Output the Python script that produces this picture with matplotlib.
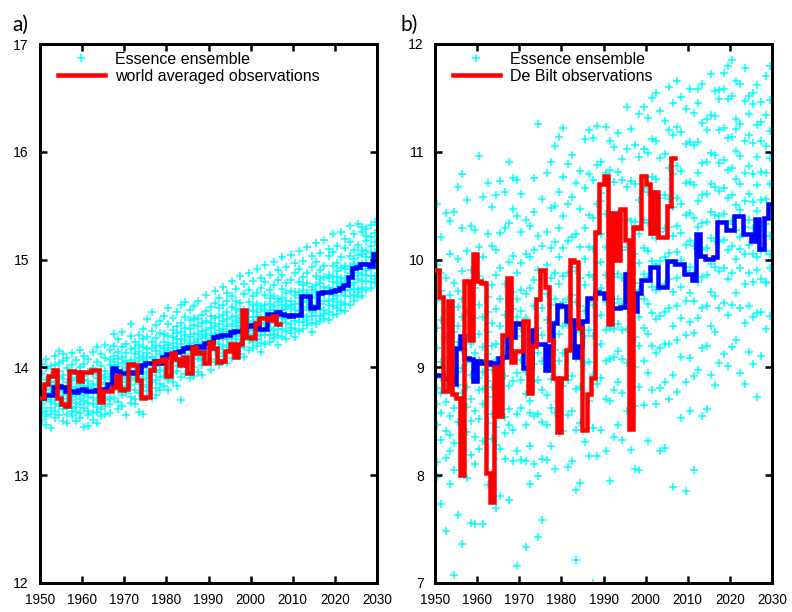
import numpy as np
import matplotlib
matplotlib.use("Agg")
import matplotlib.pyplot as plt

plt.rcParams['font.family'] = ['Liberation Sans', 'DejaVu Sans']

years = list(range(1950, 2030))
obs_years = list(range(1950, 2007))

# ensemble mean (blue), panel a
mean_a = [13.72, 13.74, 13.74, 13.82, 13.83, 13.82, 13.78, 13.78, 13.77, 13.79,
          13.80, 13.78, 13.78, 13.79, 13.80, 13.80, 13.85, 13.99, 13.97, 13.95,
          13.95, 13.96, 13.95, 13.96, 14.02, 14.04, 14.04, 14.06, 14.04, 14.10,
          14.12, 14.12, 14.14, 14.15, 14.18, 14.19, 14.18, 14.20, 14.19, 14.23,
          14.24, 14.28, 14.29, 14.30, 14.30, 14.33, 14.34, 14.34, 14.36, 14.38,
          14.39, 14.40, 14.36, 14.36, 14.50, 14.50, 14.51, 14.50, 14.49, 14.48,
          14.49, 14.49, 14.66, 14.66, 14.55, 14.56, 14.69, 14.70, 14.70, 14.71,
          14.72, 14.74, 14.76, 14.84, 14.92, 14.93, 14.96, 14.96, 14.94, 15.05]

# world averaged observations (red), panel a
obs_a = [13.72, 13.85, 13.92, 13.98, 13.72, 13.66, 13.64, 13.97, 13.96, 13.87,
         13.96, 13.96, 13.98, 13.98, 13.68, 13.78, 13.78, 13.82, 13.92, 13.79,
         13.80, 14.03, 14.02, 13.88, 13.72, 13.73, 13.98, 14.05, 14.06, 14.08,
         13.92, 14.13, 14.08, 14.02, 14.10, 13.95, 14.19, 14.13, 14.14, 14.04,
         14.24, 14.18, 14.05, 14.06, 14.15, 14.22, 14.10, 14.22, 14.53, 14.28,
         14.27, 14.41, 14.46, 14.46, 14.44, 14.48, 14.40]

# ensemble mean (blue), panel b
mean_b = [8.93, 8.93, 8.90, 8.90, 8.85, 9.18, 9.29, 9.09, 9.08, 8.87,
          9.06, 9.04, 9.05, 9.03, 9.04, 9.09, 9.10, 9.27, 9.28, 9.41,
          9.40, 8.99, 9.00, 9.35, 9.22, 9.22, 8.98, 9.20, 9.41, 9.58,
          9.57, 9.43, 9.44, 9.10, 9.20, 9.43, 9.64, 9.64, 9.70, 9.69,
          9.64, 9.64, 9.55, 9.55, 9.56, 9.87, 9.52, 9.52, 9.69, 9.81,
          9.81, 9.93, 9.93, 9.75, 9.75, 9.99, 9.99, 9.96, 9.96, 9.87,
          9.87, 9.81, 10.24, 10.03, 10.01, 10.01, 10.02, 10.35, 10.35, 10.27,
          10.27, 10.40, 10.40, 10.24, 10.24, 10.17, 10.38, 10.10, 10.39, 10.52]

# De Bilt observations (red), panel b
obs_b = [9.90, 9.65, 8.78, 9.62, 8.75, 8.72, 8.00, 9.80, 9.25, 10.05,
         9.80, 9.78, 8.02, 7.75, 9.00, 8.55, 9.30, 9.83, 9.05, 9.15,
         9.15, 9.43, 8.76, 9.20, 9.63, 9.90, 9.75, 9.25, 8.90, 8.40,
         8.90, 9.16, 10.00, 9.98, 9.37, 8.42, 8.75, 8.90, 10.26, 10.70,
         10.78, 9.40, 10.43, 10.00, 10.47, 10.18, 8.43, 10.30, 10.29, 10.78,
         10.70, 10.25, 10.63, 10.21, 10.21, 10.50, 10.94]

# Essence ensemble members, one row per year, panel a
ens_a = [
    [13.58, 13.83, 13.69, 13.51, 13.94, 13.74, 13.62, 14.03, 13.77, 13.66],
    [13.79, 13.47, 13.88, 13.71, 13.60, 13.99, 13.76, 13.55, 13.84, 14.08],
    [13.62, 13.70, 13.93, 13.44, 13.81, 13.76, 14.01, 13.57, 13.68, 13.86],
    [13.73, 13.95, 13.60, 13.87, 14.11, 13.79, 13.66, 13.84, 14.02, 13.53],
    [13.91, 13.64, 13.78, 14.04, 13.85, 13.56, 13.97, 13.72, 14.15, 13.81],
    [13.68, 13.50, 13.89, 13.77, 14.06, 13.93, 13.61, 13.80, 13.74, 14.12],
    [13.86, 13.71, 13.57, 13.99, 13.64, 13.79, 14.09, 13.48, 13.83, 13.75],
    [13.62, 13.95, 13.81, 13.70, 14.13, 13.55, 13.88, 13.73, 13.60, 14.02],
    [13.74, 13.59, 13.90, 14.07, 13.67, 13.82, 13.50, 13.96, 13.78, 13.63],
    [13.97, 13.66, 13.84, 13.53, 13.76, 14.00, 13.71, 13.89, 14.16, 13.58],
    [13.69, 13.88, 13.45, 13.77, 14.03, 13.83, 13.62, 13.92, 13.74, 14.11],
    [13.83, 13.60, 13.96, 13.46, 13.73, 14.08, 13.87, 13.67, 13.79, 13.56],
    [13.72, 13.94, 13.58, 13.85, 13.66, 14.14, 13.78, 13.51, 13.99, 13.81],
    [13.90, 13.63, 13.77, 14.05, 13.48, 13.84, 13.70, 13.96, 13.59, 14.19],
    [13.61, 13.86, 14.01, 13.74, 13.93, 13.55, 13.80, 14.12, 13.68, 13.89],
    [13.85, 13.70, 13.57, 13.97, 14.09, 13.64, 13.91, 13.78, 14.21, 13.73],
    [13.77, 14.02, 13.66, 13.89, 13.58, 14.16, 13.83, 13.94, 13.71, 14.07],
    [14.05, 13.84, 14.20, 13.93, 13.72, 14.11, 13.98, 14.31, 13.87, 14.02],
    [13.89, 14.14, 13.68, 14.01, 13.95, 14.26, 13.79, 14.08, 13.92, 13.61],
    [14.10, 13.82, 13.97, 13.64, 14.19, 13.91, 14.04, 13.74, 14.33, 13.86],
    [13.83, 14.06, 13.92, 14.22, 13.56, 13.99, 13.76, 14.13, 13.89, 14.03],
    [14.01, 13.73, 14.17, 13.90, 14.29, 13.84, 13.67, 14.07, 13.95, 14.40],
    [13.88, 14.12, 13.79, 14.00, 13.66, 14.24, 13.93, 14.05, 13.71, 14.18],
    [14.09, 13.85, 13.97, 14.30, 13.76, 14.14, 13.59, 14.02, 13.91, 14.21],
    [13.94, 14.19, 13.82, 14.07, 14.36, 13.99, 13.57, 14.11, 13.88, 14.26],
    [14.13, 13.90, 14.28, 13.78, 14.04, 14.17, 13.96, 14.45, 13.84, 14.09],
    [13.99, 14.24, 13.86, 14.10, 13.72, 14.34, 14.03, 13.93, 14.18, 14.51],
    [14.15, 13.88, 14.01, 14.27, 13.81, 14.08, 14.39, 13.96, 14.20, 13.74],
    [13.91, 14.20, 14.06, 13.79, 14.32, 14.12, 13.98, 14.43, 13.85, 14.02],
    [14.18, 13.97, 14.31, 14.05, 13.83, 14.24, 14.12, 14.48, 13.92, 14.14],
    [14.04, 14.29, 13.88, 14.16, 14.40, 13.99, 14.21, 14.09, 14.55, 13.79],
    [14.23, 13.95, 14.13, 14.35, 14.01, 14.46, 13.86, 14.18, 14.07, 14.28],
    [14.09, 14.32, 13.97, 14.19, 14.51, 14.05, 14.26, 13.83, 14.15, 14.38],
    [14.26, 14.02, 14.41, 14.14, 13.91, 14.22, 14.58, 14.08, 14.33, 13.70],
    [14.12, 14.37, 14.03, 14.25, 13.94, 14.47, 14.17, 14.30, 14.06, 14.61],
    [14.28, 14.05, 14.21, 14.44, 13.90, 14.16, 14.36, 14.10, 14.53, 14.23],
    [14.14, 14.39, 14.00, 14.24, 14.57, 14.11, 14.31, 13.92, 14.20, 14.46],
    [14.31, 14.08, 14.45, 14.17, 14.26, 13.96, 14.38, 14.62, 14.13, 14.22],
    [14.10, 14.34, 14.23, 14.02, 14.49, 14.16, 14.29, 14.07, 14.41, 13.93],
    [14.35, 14.12, 14.27, 14.52, 14.05, 14.22, 14.43, 14.67, 14.18, 14.31],
    [14.17, 14.41, 14.08, 14.30, 14.56, 14.25, 13.98, 14.37, 14.21, 14.48],
    [14.38, 14.15, 14.32, 14.60, 14.24, 14.46, 14.05, 14.29, 14.71, 14.19],
    [14.22, 14.47, 14.11, 14.35, 14.28, 14.55, 14.02, 14.40, 14.17, 14.64],
    [14.43, 14.19, 14.33, 14.58, 14.07, 14.26, 14.49, 14.75, 14.36, 14.13],
    [14.26, 14.51, 14.15, 14.38, 14.62, 14.31, 14.04, 14.45, 14.21, 14.69],
    [14.40, 14.18, 14.56, 14.29, 14.47, 14.09, 14.35, 14.66, 14.24, 14.80],
    [14.31, 14.54, 14.21, 14.43, 14.13, 14.62, 14.38, 14.26, 14.73, 14.48],
    [14.46, 14.23, 14.37, 14.60, 14.12, 14.29, 14.52, 14.85, 14.41, 14.18],
    [14.28, 14.53, 14.19, 14.44, 14.68, 14.35, 14.10, 14.49, 14.25, 14.77],
    [14.47, 14.25, 14.61, 14.34, 14.52, 14.16, 14.41, 14.72, 14.30, 14.88],
    [14.35, 14.58, 14.24, 14.47, 14.18, 14.66, 14.43, 14.31, 14.80, 14.53],
    [14.51, 14.29, 14.44, 14.69, 14.20, 14.37, 14.59, 14.91, 14.48, 14.26],
    [14.33, 14.57, 14.23, 14.46, 14.74, 14.40, 14.14, 14.54, 14.30, 14.83],
    [14.52, 14.30, 14.67, 14.41, 14.58, 14.22, 14.47, 14.79, 14.36, 14.95],
    [14.41, 14.64, 14.30, 14.53, 14.24, 14.72, 14.49, 14.37, 14.86, 14.59],
    [14.57, 14.35, 14.50, 14.76, 14.27, 14.44, 14.66, 14.98, 14.53, 14.31],
    [14.39, 14.63, 14.29, 14.52, 14.81, 14.47, 14.21, 14.61, 14.36, 14.90],
    [14.58, 14.36, 14.73, 14.46, 14.64, 14.28, 14.53, 14.86, 14.42, 15.02],
    [14.45, 14.69, 14.34, 14.57, 14.26, 14.78, 14.54, 14.41, 14.93, 14.62],
    [14.62, 14.40, 14.55, 14.81, 14.32, 14.49, 14.71, 15.04, 14.58, 14.37],
    [14.47, 14.70, 14.36, 14.59, 14.88, 14.53, 14.28, 14.67, 14.43, 14.97],
    [14.64, 14.42, 14.79, 14.52, 14.70, 14.34, 14.59, 14.91, 14.48, 15.08],
    [14.53, 14.76, 14.42, 14.65, 14.36, 14.84, 14.61, 14.49, 14.99, 14.72],
    [14.69, 14.47, 14.62, 14.88, 14.39, 14.56, 14.78, 15.12, 14.65, 14.44],
    [14.51, 14.75, 14.41, 14.64, 14.93, 14.58, 14.33, 14.72, 14.48, 15.03],
    [14.70, 14.48, 14.85, 14.58, 14.76, 14.40, 14.65, 14.98, 14.54, 15.15],
    [14.59, 14.82, 14.48, 14.71, 14.43, 14.90, 14.67, 14.55, 15.06, 14.78],
    [14.75, 14.53, 14.68, 14.94, 14.45, 14.62, 14.84, 15.18, 14.71, 14.50],
    [14.62, 14.86, 14.51, 14.74, 15.03, 14.68, 14.44, 14.83, 14.58, 15.10],
    [14.79, 14.57, 14.94, 14.67, 14.85, 14.49, 14.74, 15.07, 14.63, 15.24],
    [14.66, 14.89, 14.55, 14.78, 14.50, 14.97, 14.73, 14.61, 15.13, 14.84],
    [14.83, 14.61, 14.76, 15.02, 14.53, 14.70, 14.92, 15.26, 14.79, 14.58],
    [14.71, 14.94, 14.59, 14.82, 15.11, 14.76, 14.52, 14.91, 14.66, 15.19],
    [14.88, 14.66, 15.03, 14.76, 14.94, 14.58, 14.83, 15.16, 14.72, 15.31],
    [14.78, 15.01, 14.67, 14.90, 14.62, 15.09, 14.85, 14.73, 15.24, 14.96],
    [14.95, 14.73, 14.88, 15.14, 14.65, 14.82, 15.04, 15.33, 14.91, 14.70],
    [14.86, 15.09, 14.74, 14.97, 15.26, 14.91, 14.66, 15.05, 14.80, 15.30],
    [15.02, 14.80, 15.17, 14.90, 15.08, 14.72, 14.97, 15.28, 14.86, 15.22],
    [14.91, 15.13, 14.79, 15.02, 14.74, 15.21, 14.97, 14.85, 15.32, 15.06],
    [15.07, 14.85, 15.00, 15.25, 14.78, 14.94, 15.16, 15.35, 15.03, 14.82],
]

# Essence ensemble members, one row per year, panel b
ens_b = [
    [8.47, 9.62, 8.12, 9.18, 10.52, 8.81, 9.95, 7.98, 9.37, 8.66],
    [9.05, 8.33, 9.71, 7.73, 8.90, 10.21, 8.58, 9.44, 8.76, 9.88],
    [8.68, 9.29, 7.48, 9.83, 8.41, 10.43, 8.97, 8.16, 9.52, 8.85],
    [9.41, 8.22, 8.79, 10.05, 7.92, 9.14, 8.55, 9.67, 8.37, 10.36],
    [7.07, 8.62, 9.33, 8.91, 9.78, 8.30, 10.44, 8.74, 9.10, 8.05],
    [9.56, 7.63, 8.84, 9.24, 10.01, 8.49, 9.71, 10.67, 8.96, 9.38],
    [8.76, 9.89, 7.36, 9.47, 8.58, 10.29, 9.15, 10.79, 8.99, 9.63],
    [9.27, 8.40, 10.08, 7.97, 9.52, 8.82, 10.55, 9.05, 8.63, 9.78],
    [8.93, 9.68, 8.19, 10.31, 7.56, 9.22, 8.71, 9.90, 9.41, 8.50],
    [8.35, 9.13, 9.74, 7.55, 8.88, 10.27, 8.60, 9.46, 8.10, 9.02],
    [9.58, 8.24, 10.96, 8.79, 9.31, 8.52, 10.12, 9.07, 8.90, 9.85],
    [8.66, 9.47, 7.55, 10.58, 8.96, 9.19, 8.32, 9.80, 10.02, 8.80],
    [9.33, 7.91, 8.73, 9.65, 10.71, 8.48, 9.12, 10.24, 8.87, 9.51],
    [8.57, 10.13, 8.98, 8.02, 9.41, 9.76, 8.34, 10.49, 9.20, 8.82],
    [9.86, 8.45, 9.22, 7.70, 10.60, 8.91, 9.54, 8.28, 10.09, 9.07],
    [8.70, 9.38, 10.73, 8.24, 9.01, 9.92, 7.81, 8.86, 9.63, 10.25],
    [9.49, 8.54, 10.29, 9.13, 8.15, 9.77, 8.92, 10.63, 8.39, 9.25],
    [8.83, 9.60, 7.77, 10.34, 9.18, 8.61, 10.91, 9.42, 9.98, 8.47],
    [9.70, 8.13, 9.35, 10.47, 8.87, 9.54, 10.03, 8.42, 9.12, 10.76],
    [7.16, 9.88, 8.57, 9.29, 10.40, 8.95, 9.63, 10.74, 8.22, 9.47],
    [9.07, 10.26, 8.62, 9.72, 8.14, 10.61, 9.36, 8.88, 9.97, 9.52],
    [8.47, 9.46, 7.33, 10.05, 8.75, 9.22, 10.37, 8.13, 9.68, 8.96],
    [9.26, 8.27, 10.31, 8.82, 7.92, 9.74, 8.58, 10.02, 9.11, 8.69],
    [8.86, 9.81, 8.10, 10.44, 9.34, 8.55, 10.76, 9.57, 9.03, 10.09],
    [7.43, 9.62, 11.26, 8.57, 9.13, 10.22, 7.99, 9.37, 8.88, 9.90],
    [9.55, 8.15, 9.06, 10.56, 7.58, 9.83, 8.79, 10.13, 9.30, 8.49],
    [8.74, 9.68, 8.14, 10.26, 9.21, 8.47, 10.80, 9.44, 8.98, 9.95],
    [9.35, 8.27, 10.11, 8.89, 9.58, 10.91, 8.62, 9.12, 9.83, 10.48],
    [8.58, 9.88, 9.16, 10.50, 8.06, 9.63, 11.05, 8.90, 9.40, 10.16],
    [9.77, 8.39, 10.29, 9.06, 11.14, 9.54, 8.77, 10.63, 9.31, 10.02],
    [8.83, 9.85, 10.77, 8.41, 9.38, 10.11, 9.13, 11.22, 9.61, 10.40],
    [9.63, 8.56, 10.17, 9.15, 10.89, 8.08, 9.88, 8.88, 10.52, 9.39],
    [8.92, 10.21, 9.43, 8.13, 10.58, 9.67, 8.60, 10.97, 9.19, 9.93],
    [7.21, 9.35, 8.42, 10.24, 7.86, 9.61, 8.80, 10.71, 9.09, 9.89],
    [9.57, 8.48, 10.12, 8.82, 9.33, 10.82, 7.93, 9.83, 9.09, 10.47],
    [8.73, 10.01, 9.29, 11.12, 8.31, 9.76, 9.04, 10.66, 9.52, 10.29],
    [9.86, 8.69, 10.41, 9.35, 11.20, 8.18, 10.12, 9.61, 10.79, 9.05],
    [7.00, 9.58, 10.39, 8.93, 10.10, 9.29, 11.13, 8.44, 9.84, 10.74],
    [9.48, 10.52, 8.85, 9.97, 11.24, 9.21, 10.23, 8.18, 9.73, 10.88],
    [10.24, 8.90, 9.74, 10.91, 9.22, 8.42, 10.54, 9.49, 9.98, 10.62],
    [8.71, 9.86, 10.42, 9.06, 11.23, 9.61, 8.22, 10.12, 9.35, 10.80],
    [9.37, 10.14, 7.95, 9.87, 10.83, 8.69, 9.62, 11.10, 9.08, 10.44],
    [10.10, 8.79, 9.60, 10.72, 9.36, 8.35, 10.39, 9.84, 11.04, 9.10],
    [8.86, 9.63, 10.43, 9.15, 11.17, 8.47, 9.87, 10.13, 9.40, 10.81],
    [9.59, 10.38, 8.76, 9.83, 10.93, 9.08, 8.33, 10.09, 9.35, 10.74],
    [10.12, 9.04, 10.67, 9.63, 11.42, 8.60, 9.88, 10.38, 9.36, 11.03],
    [8.68, 9.79, 10.36, 9.29, 11.21, 8.23, 9.54, 10.06, 9.01, 10.73],
    [9.78, 8.64, 10.35, 9.28, 10.70, 8.06, 9.53, 11.06, 9.00, 10.05],
    [9.20, 10.24, 8.82, 9.97, 11.35, 9.47, 8.05, 10.55, 9.72, 10.95],
    [10.37, 9.06, 9.87, 11.03, 8.65, 10.11, 9.63, 11.42, 9.37, 10.66],
    [8.95, 10.08, 9.59, 10.99, 8.32, 9.84, 10.34, 9.31, 11.31, 10.63],
    [9.99, 10.77, 9.20, 11.50, 9.75, 8.79, 10.48, 9.50, 11.12, 10.23],
    [10.46, 8.66, 9.72, 11.10, 9.45, 10.20, 9.13, 11.55, 9.96, 10.75],
    [9.18, 10.26, 8.22, 9.74, 10.94, 9.48, 10.57, 8.81, 11.38, 9.99],
    [10.02, 8.86, 9.51, 10.98, 8.25, 9.77, 10.60, 9.22, 11.29, 10.29],
    [9.55, 10.56, 9.22, 11.20, 10.06, 8.71, 10.85, 9.82, 11.60, 10.30],
    [10.22, 7.89, 9.70, 11.16, 9.38, 10.49, 8.93, 10.79, 9.97, 11.45],
    [9.25, 10.87, 9.83, 11.66, 8.77, 10.31, 9.57, 11.23, 10.07, 10.57],
    [10.52, 9.10, 10.00, 11.18, 8.53, 9.75, 10.82, 9.46, 11.51, 10.25],
    [7.85, 9.62, 10.41, 9.30, 11.07, 8.86, 10.14, 9.89, 11.40, 10.71],
    [10.17, 8.60, 9.69, 10.72, 9.42, 11.58, 9.09, 10.43, 9.93, 11.09],
    [9.32, 10.39, 8.05, 9.88, 11.06, 9.62, 10.69, 8.92, 11.36, 10.13],
    [10.54, 9.46, 10.06, 11.45, 8.98, 10.80, 9.79, 11.09, 10.30, 11.58],
    [9.18, 10.34, 9.84, 11.27, 8.55, 10.09, 10.60, 9.55, 11.63, 10.90],
    [10.35, 9.20, 10.11, 11.30, 9.57, 8.61, 10.91, 9.86, 11.20, 10.61],
    [9.70, 10.44, 8.93, 11.34, 10.20, 9.38, 10.99, 9.96, 11.72, 10.70],
    [10.41, 9.33, 10.67, 8.84, 11.33, 9.93, 10.17, 9.66, 11.56, 10.97],
    [9.89, 10.64, 9.04, 11.57, 10.40, 9.55, 11.20, 10.16, 11.49, 10.90],
    [10.66, 9.60, 10.18, 11.22, 9.12, 10.92, 9.92, 11.73, 10.42, 11.58],
    [9.49, 10.57, 10.09, 11.49, 9.01, 10.83, 9.82, 11.13, 10.33, 11.80],
    [10.60, 9.58, 11.14, 10.13, 9.19, 11.85, 9.88, 10.85, 10.36, 11.52],
    [10.01, 10.75, 9.69, 11.66, 10.27, 9.25, 11.30, 10.51, 11.21, 11.01],
    [10.96, 9.55, 10.46, 11.63, 8.95, 10.21, 10.10, 11.26, 9.92, 10.70],
    [9.77, 10.54, 9.41, 11.47, 10.30, 8.85, 11.10, 10.05, 11.78, 10.80],
    [10.61, 9.57, 10.37, 11.16, 9.14, 10.87, 9.88, 11.52, 10.14, 11.35],
    [9.47, 10.53, 9.79, 11.44, 10.29, 9.03, 10.79, 10.05, 11.55, 11.08],
    [10.69, 9.50, 10.20, 11.62, 8.73, 10.95, 9.90, 11.25, 10.45, 10.02],
    [9.82, 10.55, 9.11, 11.10, 10.31, 9.51, 11.46, 10.08, 10.81, 11.28],
    [10.56, 9.36, 10.80, 9.78, 11.34, 10.08, 11.70, 10.33, 9.79, 11.05],
    [9.92, 10.70, 10.22, 11.48, 9.48, 11.19, 10.47, 11.80, 10.94, 10.05],
]


def draw_panel(ax, ens, mean, obs, obs_label, ylim):
    # ensemble members as cyan crosses, centred in each year
    xs = []
    ys = []
    for yr, row in zip(years, ens):
        xs.extend([yr + 0.5] * len(row))
        ys.extend(row)
    ax.plot(xs, ys, '+', color='#00ffff', ms=8, mew=1.5, ls='none',
            label='Essence ensemble', zorder=1)

    # step lines: each year value held until next year
    ax.step(years + [years[-1] + 1], mean + [mean[-1]], where='post',
            color='#0000ff', lw=4.5, solid_joinstyle='miter', zorder=2)
    ax.step(obs_years + [obs_years[-1] + 1], obs + [obs[-1]], where='post',
            color='#ff0000', lw=4.5, solid_joinstyle='miter',
            label=obs_label, zorder=3)

    ax.set_xlim(1950, 2030)
    ax.set_ylim(*ylim)
    ax.set_xticks(range(1950, 2031, 10))
    ax.set_yticks(range(ylim[0], ylim[1] + 1))
    ax.tick_params(direction='in', length=7, width=2.5, top=True, right=True,
                   labelsize=14, pad=11)
    ax.tick_params(axis='x', labelsize=13.5, pad=10)
    for sp in ax.spines.values():
        sp.set_linewidth(3)

    ax.legend(loc='upper left', bbox_to_anchor=(0.053, 0.985), frameon=False,
              fontsize=16, handlelength=2.95, handletextpad=0.6,
              borderpad=0, borderaxespad=0, labelspacing=0.12, markerscale=1)


fig = plt.figure(figsize=(11, 8.5), dpi=72)
ax1 = fig.add_axes([40 / 792, 1 - 583 / 612, 337 / 792, 539 / 612])
ax2 = fig.add_axes([435 / 792, 1 - 583 / 612, 337 / 792, 539 / 612])

draw_panel(ax1, ens_a, mean_a, obs_a, 'world averaged observations', (12, 17))
draw_panel(ax2, ens_b, mean_b, obs_b, 'De Bilt observations', (7, 12))

fig.text(12 / 792, 1 - 31 / 612, 'a)', fontsize=21, family='Lato', va='baseline')
fig.text(400 / 792, 1 - 31 / 612, 'b)', fontsize=21, family='Lato', va='baseline')

fig.savefig('out.png', dpi=72)
